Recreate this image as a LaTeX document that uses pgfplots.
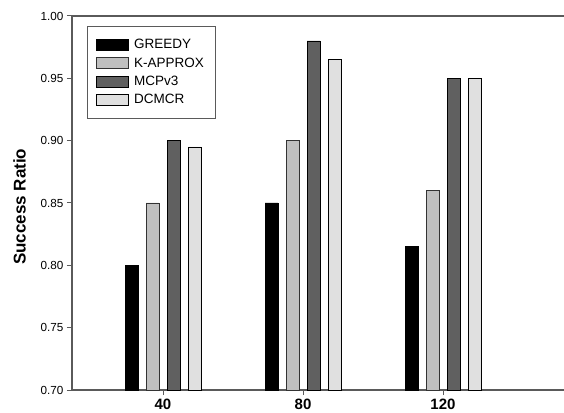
\documentclass[border=0pt]{standalone}
\usepackage{fontspec}
\setmainfont{Liberation Sans}
\usepackage{pgfplots}
\pgfplotsset{compat=1.18}
\definecolor{axgray}{RGB}{90,90,90}
\definecolor{kgray}{RGB}{192,192,192}
\definecolor{mgray}{RGB}{96,96,96}
\definecolor{dgray}{RGB}{224,224,224}
\begin{document}
\begin{tikzpicture}
\begin{axis}[
  width=492pt, height=374pt, scale only axis,
  xmin=14, xmax=154.57, ymin=0.70, ymax=1.00,
  axis lines*=left,
  axis line style={axgray, line width=1.2pt},
  xtick={40,80,120},
  ytick={0.70,0.75,0.80,0.85,0.90,0.95,1.00},
  yticklabel={\pgfmathprintnumber[fixed,fixed zerofill,precision=2]{\tick}},
  /pgf/number format/assume math mode=true,
  tick style={axgray, line width=1pt},
  major tick length=5pt,
  tick align=outside,
  yticklabel style={font=\fontsize{11.7}{12}\selectfont},
  xticklabel style={font=\fontsize{15}{16}\selectfont\bfseries},
  ylabel={Success Ratio},
  every axis y label/.style={at={(axis description cs:-0.1067,0.49)}, rotate=90, anchor=center,
    font=\fontsize{17}{18}\selectfont\bfseries},
  ybar,
  bar width=3.7,
  legend image code/.code={\draw[#1, line width=0.6pt] (0pt,-5.5pt) rectangle (32pt,5.5pt); \path (35.5pt,0pt);},
  legend style={at={(axis description cs:0.0299,0.973)}, anchor=north west,
    draw=axgray, line width=0.8pt, fill=white,
    font=\fontsize{13.5}{14}\selectfont, cells={anchor=west},
    inner xsep=9pt, inner ysep=11pt, row sep=3.3pt},
]
\addplot[fill=black, draw=black, line width=0.6pt, bar shift=-9] coordinates {(40,0.800) (80,0.850) (120,0.815)};
\addplot[fill=kgray, draw=black!80, line width=0.6pt, bar shift=-3] coordinates {(40,0.850) (80,0.900) (120,0.860)};
\addplot[fill=mgray, draw=black, line width=0.6pt, bar shift=3] coordinates {(40,0.900) (80,0.980) (120,0.950)};
\addplot[fill=dgray, draw=black, line width=0.6pt, bar shift=9] coordinates {(40,0.895) (80,0.965) (120,0.950)};
\legend{GREEDY, K-APPROX, MCPv3, DCMCR}
\end{axis}
\draw[axgray, line width=1.2pt] (current axis.north west) -- (current axis.north east);
\pgfresetboundingbox
\path (current axis.south west) ++(-72pt,-22pt) rectangle ([yshift=16pt]current axis.north east);
\end{tikzpicture}
\end{document}
